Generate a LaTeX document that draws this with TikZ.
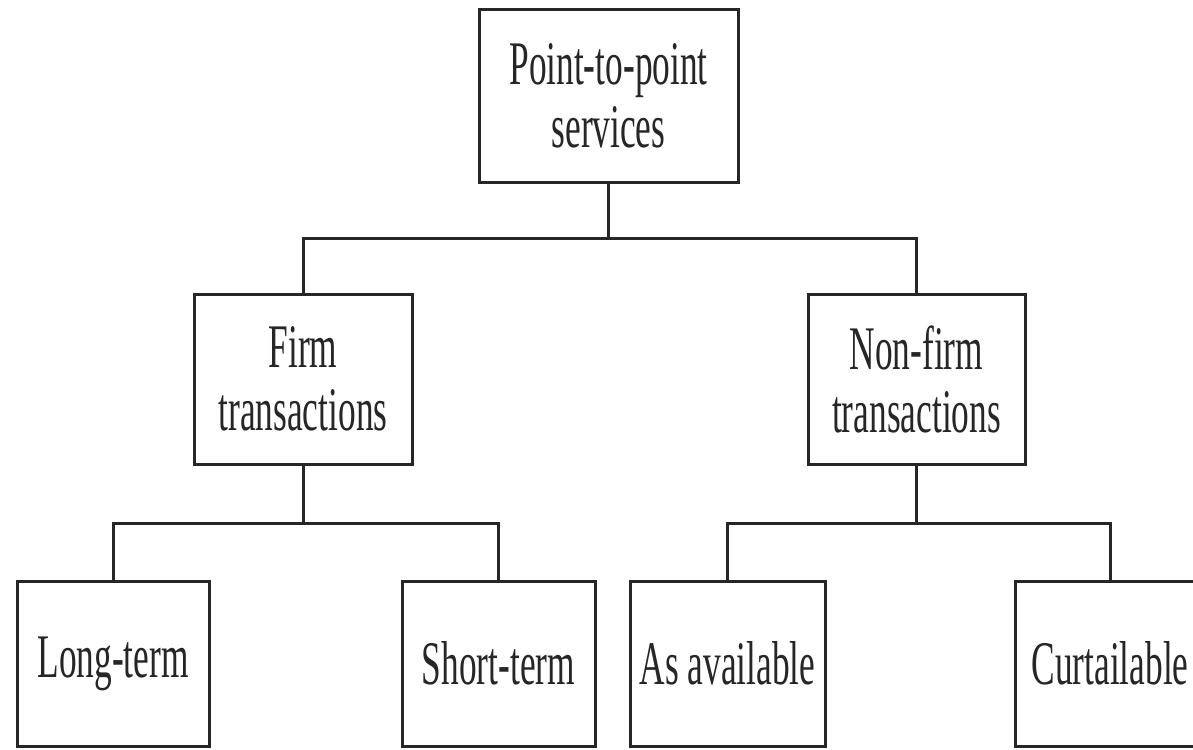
\documentclass[tikz,border=0pt]{standalone}
\usepackage{fontspec}
\setmainfont{Liberation Serif}[FakeStretch=0.57]
\begin{document}
\begin{tikzpicture}[x=1pt,y=-1pt,
  box/.style={draw=black!85, line width=3pt, inner sep=0pt, align=center,
    font=\fontsize{62}{63}\selectfont, text=black!85},
  conn/.style={draw=black!85, line width=3pt}]
\clip (0,0) rectangle (1193,749);
\useasboundingbox (0,0) rectangle (1193,749);
\fill[white] (0,0) rectangle (1193,749);
\node[box, minimum width=259pt, minimum height=172pt] (top) at (608.5,96) {Point-to-point\\services};
\node[box, minimum width=218pt, minimum height=170pt] (firm) at (303,379) {Firm\\transactions};
\node[box, minimum width=217pt, minimum height=170pt] (nonfirm) at (916.5,379) {Non-firm\\transactions};
\node[box, minimum width=192pt, minimum height=165pt] (long) at (113,663.5) {Long-term};
\node[box, minimum width=193pt, minimum height=165pt] (short) at (498.5,663.5) {Short-term};
\node[box, minimum width=195pt, minimum height=165pt] (asav) at (727.5,663.5) {As available};
\node[box, minimum width=190pt, minimum height=165pt] (curt) at (1110,663.5) {Curtailable};
\coordinate (busA) at (0,238);
\coordinate (busB) at (0,523);
\draw[conn] (top.south) -- (top.south |- busA);
\draw[conn] (firm.north) -- (firm.north |- busA) -- (nonfirm.north |- busA) -- (nonfirm.north);
\draw[conn] (firm.south) -- (firm.south |- busB);
\draw[conn] (long.north) -- (long.north |- busB) -- (short.north |- busB) -- (short.north);
\draw[conn] (nonfirm.south) -- (nonfirm.south |- busB);
\draw[conn] (asav.north) -- (asav.north |- busB) -- (curt.north |- busB) -- (curt.north);
\end{tikzpicture}
\end{document}
